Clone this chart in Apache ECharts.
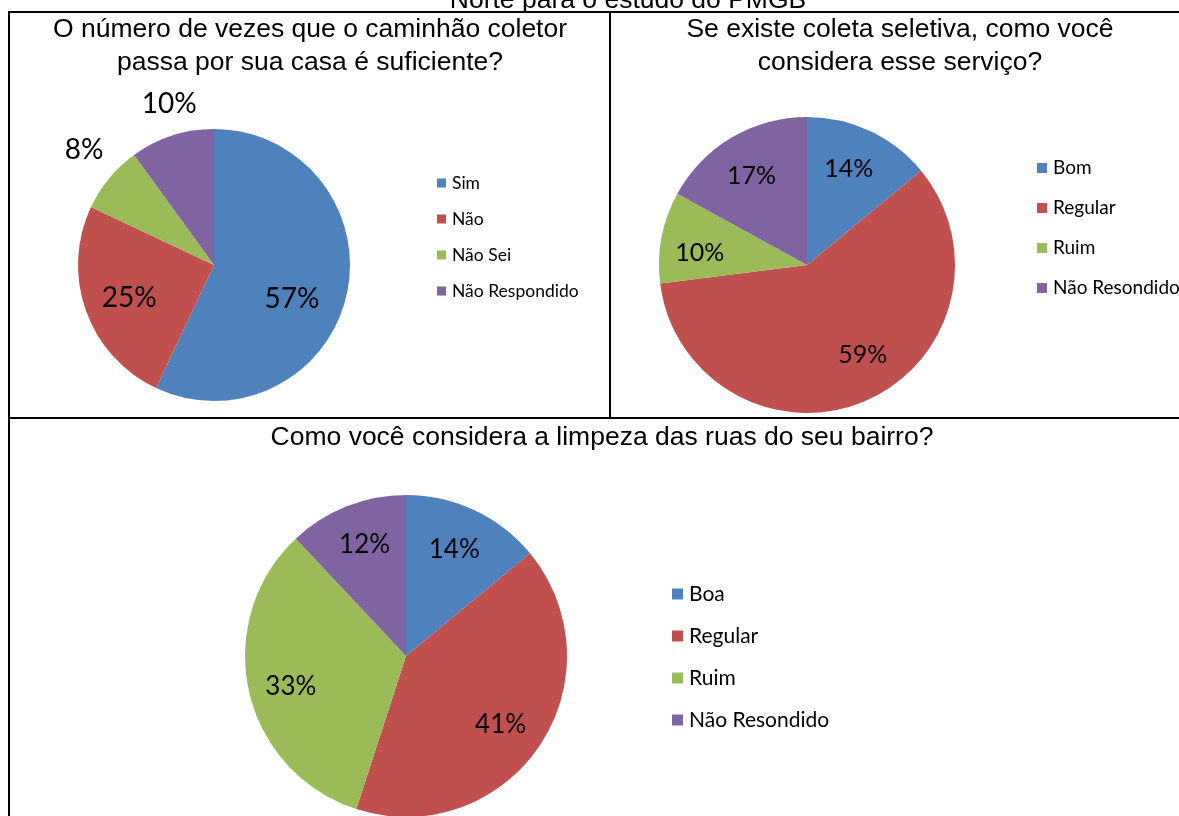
<!DOCTYPE html>
<html>
<head>
<meta charset="utf-8">
<script src="https://cdn.jsdelivr.net/npm/echarts@6/dist/echarts.min.js"></script>
<style>
html,body{margin:0;padding:0;background:#fff;}
#chart{width:1179px;height:816px;}
</style>
</head>
<body>
<div id="chart"></div>
<script>
// ---- data ----
const headerText = 'Norte para o estudo do PMGB';
const title1 = 'O número de vezes que o caminhão coletor\npassa por sua casa é suficiente?';
const title2 = 'Se existe coleta seletiva, como você\nconsidera esse serviço?';
const title3 = 'Como você considera a limpeza das ruas do seu bairro?';

const pie1Names = ['Sim', 'Não', 'Não Sei', 'Não Respondido'];
const pie1Values = [57, 25, 8, 10];
const pie1LabelOutside = [false, false, true, true];

const pie2Names = ['Bom', 'Regular', 'Ruim', 'Não Resondido'];
const pie2Values = [14, 59, 10, 17];

const pie3Names = ['Boa', 'Regular', 'Ruim', 'Não Resondido'];
const pie3Values = [14, 41, 33, 12];

const sliceColors = ['#4F81BD', '#C0504D', '#9BBB59', '#8064A2'];

// ---- build ----
const labelFont = 'Lato, "Noto Sans", sans-serif';
const titleFont = '"Liberation Sans", Arial, sans-serif';

function mainData(names, values, outsideFlags, fontSize, outsideLines) {
  return names.map((n, i) => {
    const item = { name: n, value: values[i], itemStyle: { color: sliceColors[i] } };
    if (outsideFlags && outsideFlags[i]) {
      item.label = { show: true, position: 'outside', fontSize: fontSize, color: '#000', fontFamily: labelFont };
      item.labelLine = { show: false, length: outsideLines[i][0], length2: outsideLines[i][1] };
    } else {
      item.label = { show: false };
    }
    return item;
  });
}
function ringData(names, values, outsideFlags, nudges) {
  return names.map((n, i) => ({
    name: n, value: values[i],
    label: { show: !(outsideFlags && outsideFlags[i]), offset: nudges ? nudges[i] : [0, 0] }
  }));
}

const pieBase = {
  type: 'pie', startAngle: 90, clockwise: true, avoidLabelOverlap: false,
  animation: false, minShowLabelAngle: 0, itemStyle: { borderWidth: 0 },
  emphasis: { disabled: true }
};

const outsideLines1 = [[0, 0], [0, 0], [45, -34], [33, -40]];

const series = [
  Object.assign({}, pieBase, {
    name: 'p1', center: [214, 265], radius: [0, 136],
    label: { formatter: '{c}%' },
    data: mainData(pie1Names, pie1Values, pie1LabelOutside, 28, outsideLines1)
  }),
  Object.assign({}, pieBase, {
    name: 'p2', center: [807, 265], radius: [0, 148],
    label: { show: false },
    data: mainData(pie2Names, pie2Values, null, 25, null)
  }),
  Object.assign({}, pieBase, {
    name: 'p3', center: [406, 656], radius: [0, 161],
    label: { show: false },
    data: mainData(pie3Names, pie3Values, null, 26, null)
  })
];
function ring(center, radius, names, values, outside, fontSize, nudges) {
  return Object.assign({}, pieBase, {
    center: center, radius: radius, silent: true, legendHoverLink: false,
    itemStyle: { color: 'rgba(0,0,0,0)', borderWidth: 0 },
    label: { show: true, position: 'inside', formatter: '{c}%', color: '#000',
             fontSize: fontSize, fontFamily: labelFont, textBorderWidth: 0 },
    labelLine: { show: false },
    data: ringData(names, values, outside, nudges)
  });
}
series.push(ring([214, 265], [34, 136], pie1Names, pie1Values, pie1LabelOutside, 28, [[-8, 15], [-2, 3], [0, 0], [0, 0]]));
series.push(ring([807, 265], [56, 148], pie2Names, pie2Values, null, 25, [[-3, -1], [14, -6], [-4, 8], [-2, 1]]));
series.push(ring([406, 656], [69, 161], pie3Names, pie3Values, null, 26, [[-2, 0], [-3, 2], [0, 5], [2, -2]]));

function legend(names, left, top, fontSize, lineHeight, gap, icon) {
  return {
    data: names, orient: 'vertical', left: left, top: top, padding: 0,
    selectedMode: false, icon: 'rect', itemWidth: icon, itemHeight: icon, itemGap: gap,
    textStyle: { fontSize: fontSize, lineHeight: lineHeight, color: '#000', fontFamily: labelFont, padding: [0, 0, 0, 1] }
  };
}

const titleStyle = { fontSize: 26.5, lineHeight: 33, color: '#000', fontWeight: 'normal', fontFamily: titleFont };

const option = {
  backgroundColor: '#fff',
  animation: false,
  title: [
    { text: title1, left: 310, top: 13, textAlign: 'center', padding: 0, textStyle: titleStyle },
    { text: title2, left: 900, top: 13, textAlign: 'center', padding: 0, textStyle: titleStyle },
    { text: title3, left: 602, top: 421, textAlign: 'center', padding: 0, textStyle: titleStyle }
  ],
  legend: [
    legend(pie1Names, 437, 173, 17.5, 20, 16, 9),
    legend(pie2Names, 1037, 157, 19, 22, 18, 10),
    legend(pie3Names, 672, 582, 21, 24, 18, 11)
  ],
  graphic: [
    { type: 'text', silent: true, style: { text: headerText, x: 628, y: 1, textAlign: 'center', textVerticalAlign: 'middle', font: '26.5px ' + titleFont, fill: '#000' } },
    { type: 'line', silent: true, shape: { x1: 8, y1: 12, x2: 1179, y2: 12 }, style: { stroke: '#000', lineWidth: 2 } },
    { type: 'line', silent: true, shape: { x1: 9, y1: 11, x2: 9, y2: 816 }, style: { stroke: '#000', lineWidth: 2 } },
    { type: 'line', silent: true, shape: { x1: 610, y1: 12, x2: 610, y2: 418 }, style: { stroke: '#000', lineWidth: 2 } },
    { type: 'line', silent: true, shape: { x1: 8, y1: 418, x2: 1179, y2: 418 }, style: { stroke: '#000', lineWidth: 2 } }
  ],
  series: series
};

const chart = echarts.init(document.getElementById('chart'), null, { renderer: 'canvas' });
chart.setOption(option);
</script>
</body>
</html>
